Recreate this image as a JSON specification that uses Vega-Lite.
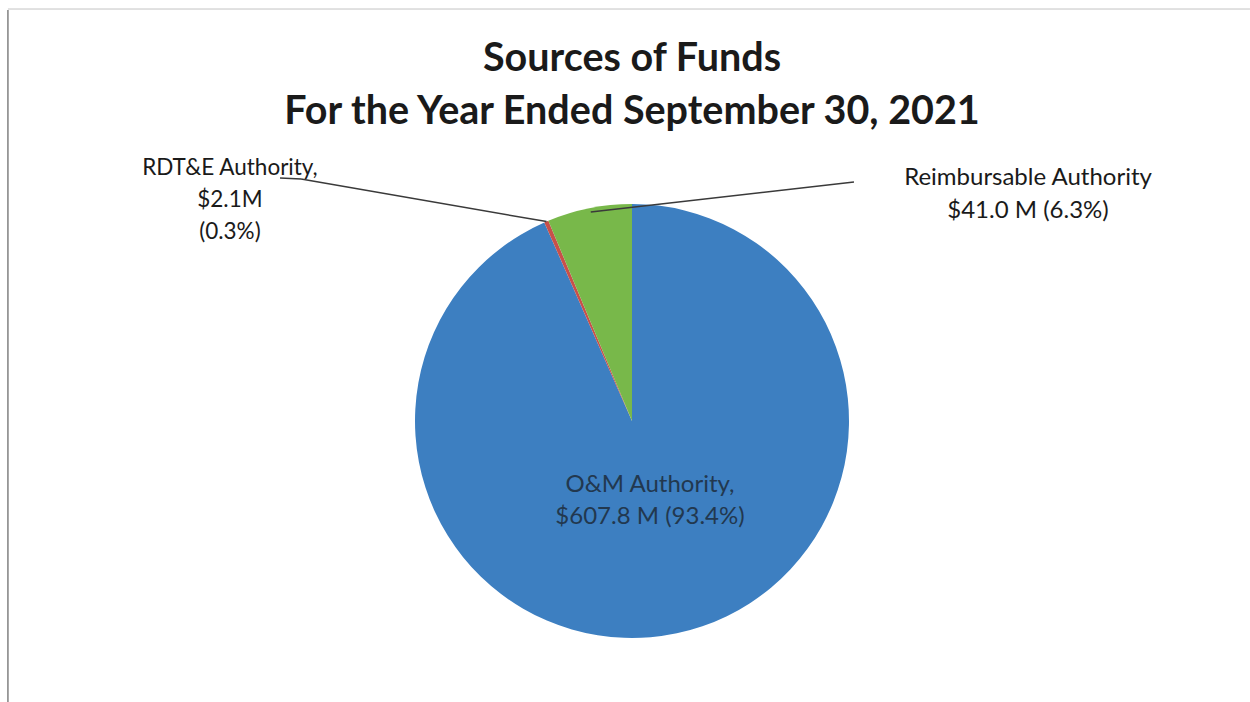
{
  "$schema": "https://vega.github.io/schema/vega-lite/v6.json",
  "autosize": {"type": "none"},
  "width": 1236,
  "height": 562,
  "padding": {"left": 14, "top": 140, "right": 0, "bottom": 0},
  "background": "white",
  "config": {"view": {"stroke": null}, "font": "Lato"},
  "title": {
    "text": ["Sources of Funds", "For the Year Ended September 30, 2021"],
    "font": "Lato",
    "fontSize": 39.5,
    "fontWeight": "bold",
    "color": "#1a1a1a",
    "lineHeight": 53,
    "anchor": "middle",
    "frame": "group",
    "offset": -123.5
  },
  "data": {
    "values": [
      {"category": "O&M Authority", "value": 607.8, "label": ["O&M Authority,", "$607.8 M (93.4%)"]},
      {"category": "RDT&E Authority", "value": 2.1, "label": ["RDT&E Authority,", "$2.1M", "(0.3%)"]},
      {"category": "Reimbursable Authority", "value": 41.0, "label": ["Reimbursable Authority", "$41.0 M (6.3%)"]}
    ]
  },
  "layer": [
    {
      "mark": {"type": "arc", "outerRadius": 217},
      "encoding": {
        "theta": {"field": "value", "type": "quantitative", "stack": true},
        "order": {"field": "category", "sort": "ascending"},
        "color": {
          "field": "category",
          "type": "nominal",
          "scale": {
            "domain": ["O&M Authority", "RDT&E Authority", "Reimbursable Authority"],
            "range": ["#3d7fc1", "#c8504a", "#78b84a"]
          },
          "legend": null
        }
      }
    },
    {
      "transform": [{"filter": "datum.category === 'O&M Authority'"}],
      "mark": {"type": "rule", "color": "#808080", "strokeWidth": 1.5},
      "encoding": {
        "x": {"datum": -2.876, "type": "quantitative", "scale": {"domain": [-2.848, 2.848], "nice": false, "zero": false}, "axis": null},
        "y": {"datum": 1.894, "type": "quantitative", "scale": {"domain": [-1.295, 1.295], "nice": false, "zero": false}, "axis": null},
        "x2": {"datum": -2.876},
        "y2": {"datum": -1.295}
      }
    },
    {
      "transform": [{"filter": "datum.category === 'O&M Authority'"}],
      "mark": {"type": "rule", "color": "#c4c4c4", "strokeWidth": 1},
      "encoding": {
        "x": {"datum": -2.876, "type": "quantitative"},
        "y": {"datum": 1.8986, "type": "quantitative"},
        "x2": {"datum": 2.848},
        "y2": {"datum": 1.8986}
      }
    },
    {
      "transform": [{"filter": "datum.category === 'RDT&E Authority'"}],
      "mark": {"type": "rule", "color": "#3a3a3a", "strokeWidth": 1.5},
      "encoding": {
        "x": {"datum": -1.622, "type": "quantitative"},
        "y": {"datum": 1.12, "type": "quantitative"},
        "x2": {"datum": -1.525},
        "y2": {"datum": 1.115}
      }
    },
    {
      "transform": [{"filter": "datum.category === 'RDT&E Authority'"}],
      "mark": {"type": "rule", "color": "#3a3a3a", "strokeWidth": 1.5},
      "encoding": {
        "x": {"datum": -1.525, "type": "quantitative"},
        "y": {"datum": 1.115, "type": "quantitative"},
        "x2": {"datum": -0.394},
        "y2": {"datum": 0.919}
      }
    },
    {
      "transform": [{"filter": "datum.category === 'Reimbursable Authority'"}],
      "mark": {"type": "rule", "color": "#3a3a3a", "strokeWidth": 1.5},
      "encoding": {
        "x": {"datum": 1.023, "type": "quantitative"},
        "y": {"datum": 1.101, "type": "quantitative"},
        "x2": {"datum": -0.19},
        "y2": {"datum": 0.963}
      }
    },
    {
      "transform": [{"filter": "datum.category === 'RDT&E Authority'"}],
      "mark": {"type": "text", "font": "Lato", "fontSize": 22.5, "lineHeight": 32, "align": "center", "baseline": "alphabetic", "color": "#1a1a1a"},
      "encoding": {
        "x": {"datum": -1.853, "type": "quantitative"},
        "y": {"datum": 1.134, "type": "quantitative"},
        "text": {"field": "label"}
      }
    },
    {
      "transform": [{"filter": "datum.category === 'Reimbursable Authority'"}],
      "mark": {"type": "text", "font": "Lato", "fontSize": 24, "lineHeight": 33, "align": "center", "baseline": "alphabetic", "color": "#1a1a1a"},
      "encoding": {
        "x": {"datum": 1.825, "type": "quantitative"},
        "y": {"datum": 1.088, "type": "quantitative"},
        "text": {"field": "label"}
      }
    },
    {
      "transform": [{"filter": "datum.category === 'O&M Authority'"}],
      "mark": {"type": "text", "font": "Lato", "fontSize": 24, "lineHeight": 32, "align": "center", "baseline": "alphabetic", "color": "#22384f"},
      "encoding": {
        "x": {"datum": 0.083, "type": "quantitative"},
        "y": {"datum": -0.327, "type": "quantitative"},
        "text": {"field": "label"}
      }
    }
  ]
}
